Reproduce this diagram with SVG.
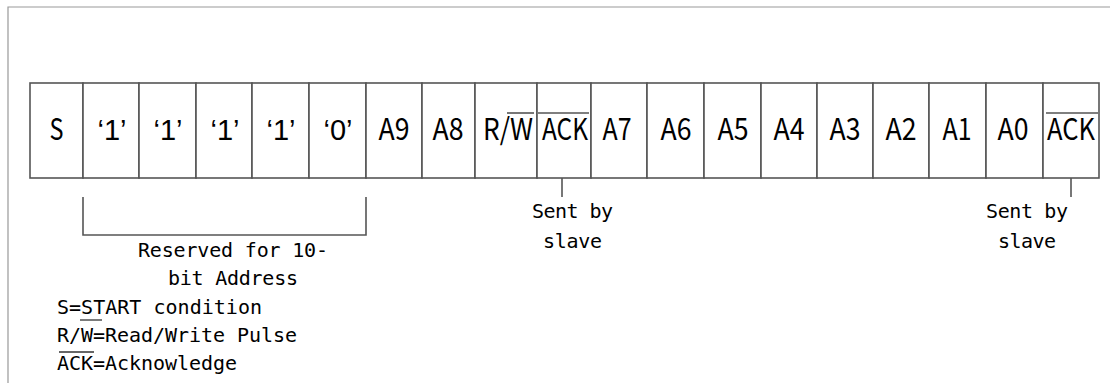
<svg xmlns="http://www.w3.org/2000/svg" width="1110" height="383" viewBox="0 0 1110 383">
<style>
.frame{fill:none;stroke:#999;stroke-width:1.2}
.cell{fill:#fff;stroke:#555;stroke-width:1.6}
.lbl{font-family:"Noto Sans CJK SC","DejaVu Sans",sans-serif;font-size:30px;fill:#000;text-anchor:middle}
.q{font-family:"Liberation Sans",Arial,sans-serif;font-size:29px;fill:#000;text-anchor:middle}
.mono{font-family:"DejaVu Sans Mono","Liberation Mono",monospace;font-size:20px;fill:#000}
.ov{stroke:#555;stroke-width:1.6}
.ovl{stroke:#333;stroke-width:1.3}
.conn{fill:none;stroke:#555;stroke-width:1.6}
</style>
<rect width="1110" height="383" fill="#fff"/>
<path class="frame" d="M8,383 V7 H1110"/>
<g id="cell-S"><rect class="cell" x="30" y="83" width="53" height="95"/><text class="lbl" x="56.5" y="140" textLength="14" lengthAdjust="spacingAndGlyphs">S</text></g>
<g id="cell-b1"><rect class="cell" x="83" y="83" width="56" height="95"/><text class="q" x="112" y="140">‘1’</text></g>
<g id="cell-b2"><rect class="cell" x="139" y="83" width="57" height="95"/><text class="q" x="168" y="140">‘1’</text></g>
<g id="cell-b3"><rect class="cell" x="196" y="83" width="56" height="95"/><text class="q" x="225" y="140">‘1’</text></g>
<g id="cell-b4"><rect class="cell" x="252" y="83" width="57" height="95"/><text class="q" x="281" y="140">‘1’</text></g>
<g id="cell-b5"><rect class="cell" x="309" y="83" width="57" height="95"/><text class="q" x="338" y="140">‘0’</text></g>
<g id="cell-A9"><rect class="cell" x="366" y="83" width="56" height="95"/><text class="lbl" x="394" y="140" textLength="31" lengthAdjust="spacingAndGlyphs">A9</text></g>
<g id="cell-A8"><rect class="cell" x="422" y="83" width="53" height="95"/><text class="lbl" x="448" y="140" textLength="31" lengthAdjust="spacingAndGlyphs">A8</text></g>
<g id="cell-RW"><rect class="cell" x="475" y="83" width="62" height="95"/><text class="lbl" x="508" y="140" textLength="50" lengthAdjust="spacingAndGlyphs">R/W</text><line class="ov" x1="507" y1="113" x2="534" y2="113"/></g>
<g id="cell-ACK1"><rect class="cell" x="537" y="83" width="54" height="95"/><text class="lbl" x="565" y="140" textLength="46" lengthAdjust="spacingAndGlyphs">ACK</text><line class="ov" x1="538" y1="113" x2="589" y2="113"/></g>
<g id="cell-A7"><rect class="cell" x="591" y="83" width="56" height="95"/><text class="lbl" x="617" y="140" textLength="29" lengthAdjust="spacingAndGlyphs">A7</text></g>
<g id="cell-A6"><rect class="cell" x="647" y="83" width="57" height="95"/><text class="lbl" x="676" y="140" textLength="31" lengthAdjust="spacingAndGlyphs">A6</text></g>
<g id="cell-A5"><rect class="cell" x="704" y="83" width="57" height="95"/><text class="lbl" x="733" y="140" textLength="31" lengthAdjust="spacingAndGlyphs">A5</text></g>
<g id="cell-A4"><rect class="cell" x="761" y="83" width="56" height="95"/><text class="lbl" x="789" y="140" textLength="31" lengthAdjust="spacingAndGlyphs">A4</text></g>
<g id="cell-A3"><rect class="cell" x="817" y="83" width="56" height="95"/><text class="lbl" x="845" y="140" textLength="31" lengthAdjust="spacingAndGlyphs">A3</text></g>
<g id="cell-A2"><rect class="cell" x="873" y="83" width="56" height="95"/><text class="lbl" x="901" y="140" textLength="31" lengthAdjust="spacingAndGlyphs">A2</text></g>
<g id="cell-A1"><rect class="cell" x="929" y="83" width="57" height="95"/><text class="lbl" x="957" y="140" textLength="29" lengthAdjust="spacingAndGlyphs">A1</text></g>
<g id="cell-A0"><rect class="cell" x="986" y="83" width="57" height="95"/><text class="lbl" x="1013" y="140" textLength="31" lengthAdjust="spacingAndGlyphs">A0</text></g>
<g id="cell-ACK2"><rect class="cell" x="1043" y="83" width="56" height="95"/><text class="lbl" x="1071" y="140" textLength="48" lengthAdjust="spacingAndGlyphs">ACK</text><line class="ov" x1="1046" y1="113" x2="1098" y2="113"/></g>
<g id="connectors">
<path class="conn" d="M83,197 V235 H366 V197"/>
<line class="conn" x1="562" y1="178" x2="562" y2="197"/>
<line class="conn" x1="1071" y1="178" x2="1071" y2="197"/>
</g>
<g id="label-reserved">
<text class="mono" x="138" y="257" textLength="190">Reserved for 10-</text>
<text class="mono" x="168" y="285" textLength="130">bit Address</text>
</g>
<g id="label-sent1">
<text class="mono" x="532" y="218" textLength="81">Sent by</text>
<text class="mono" x="543" y="248" textLength="59">slave</text>
</g>
<g id="label-sent2">
<text class="mono" x="986" y="218" textLength="82">Sent by</text>
<text class="mono" x="998" y="248" textLength="58">slave</text>
</g>
<g id="legend">
<text class="mono" x="57" y="314" textLength="205">S=START condition</text>
<text class="mono" x="57" y="342" textLength="240">R/W=Read/Write Pulse</text>
<line class="ovl" x1="80" y1="320" x2="102" y2="320"/>
<text class="mono" x="57" y="370" textLength="180">ACK=Acknowledge</text>
<line class="ovl" x1="59" y1="352" x2="94" y2="352"/>
</g>
</svg>
